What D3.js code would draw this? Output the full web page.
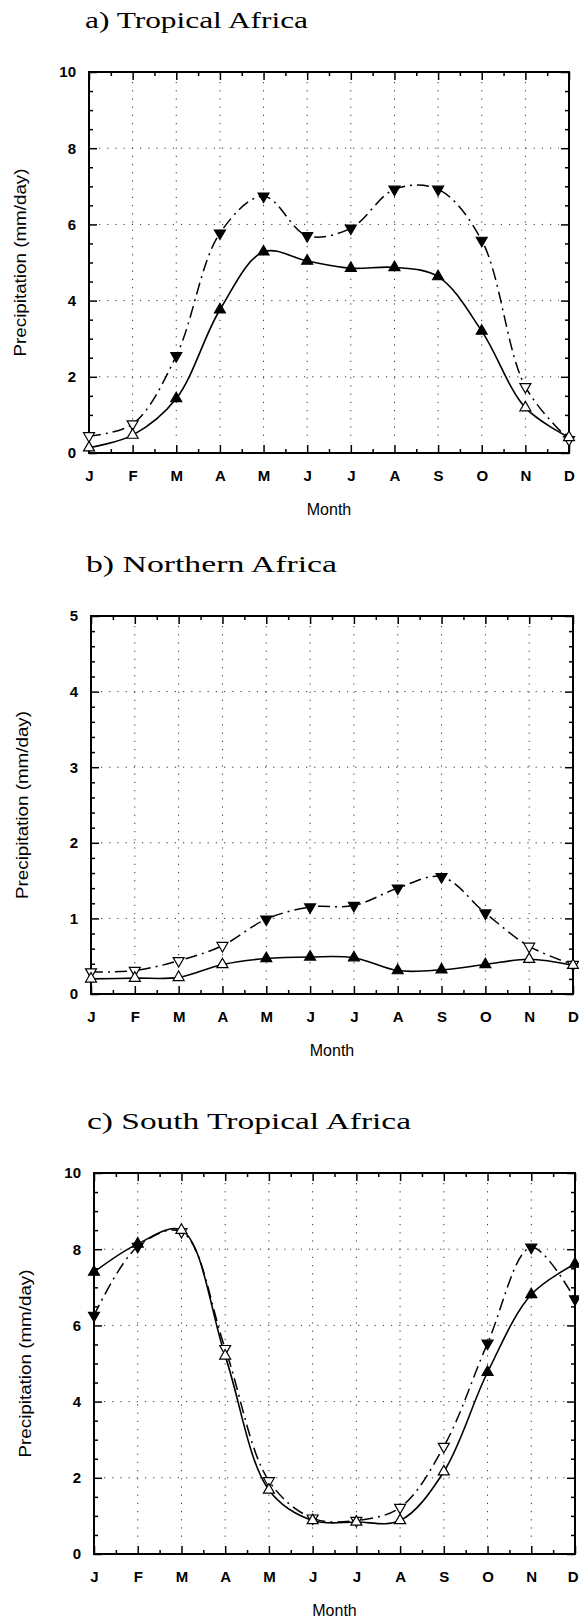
<!DOCTYPE html>
<html>
<head>
<meta charset="utf-8">
<script src="https://cdn.jsdelivr.net/npm/d3@7"></script>
<style>
  body { margin: 0; background: #fff; }
  text { fill: #000; }
</style>
</head>
<body>
<div id="chart"></div>
<script>
// month tick labels
var months = ["J", "F", "M", "A", "M", "J", "J", "A", "S", "O", "N", "D"];

// a) Tropical Africa
var titleA = "a) Tropical Africa";
var solidA = [0.14, 0.47, 1.43, 3.76, 5.28, 5.04, 4.85, 4.87, 4.63, 3.2, 1.19, 0.41];
var dashA = [0.45, 0.76, 2.55, 5.77, 6.74, 5.7, 5.9, 6.92, 6.92, 5.58, 1.74, 0.35];
var filledA = [0, 0, 1, 1, 1, 1, 1, 1, 1, 1, 0, 0];
var yTicksA = [0, 2, 4, 6, 8, 10];

// b) Northern Africa
var titleB = "b) Northern Africa";
var solidB = [0.2, 0.21, 0.22, 0.39, 0.47, 0.49, 0.48, 0.31, 0.32, 0.39, 0.46, 0.38];
var dashB = [0.29, 0.31, 0.44, 0.64, 0.99, 1.15, 1.17, 1.4, 1.55, 1.07, 0.63, 0.39];
var filledB = [0, 0, 0, 0, 1, 1, 1, 1, 1, 1, 0, 0];
var yTicksB = [0, 1, 2, 3, 4, 5];

// c) South Tropical Africa
var titleC = "c) South Tropical Africa";
var solidC = [7.4, 8.14, 8.5, 5.2, 1.68, 0.88, 0.84, 0.88, 2.16, 4.77, 6.81, 7.61];
var dashC = [6.26, 8.07, 8.46, 5.39, 1.92, 0.94, 0.88, 1.22, 2.82, 5.53, 8.05, 6.69];
var filledC = [1, 1, 0, 0, 0, 0, 0, 0, 0, 1, 1, 1];
var yTicksC = [0, 2, 4, 6, 8, 10];

var svgWidth = 579;
var svgHeight = 1618;

var svg = d3.select("#chart")
    .append("svg")
    .attr("width", svgWidth)
    .attr("height", svgHeight);

var panels = [
    { title: titleA, titleW: 223, titleX: 85, solid: solidA, dash: dashA, filled: filledA,
      yTicks: yTicksA, minor: 0.5, box: { left: 89, right: 569, top: 72, bottom: 453 } },
    { title: titleB, titleW: 251, titleX: 86, solid: solidB, dash: dashB, filled: filledB,
      yTicks: yTicksB, minor: 0.2, box: { left: 91, right: 573, top: 616, bottom: 994 } },
    { title: titleC, titleW: 324, titleX: 87, solid: solidC, dash: dashC, filled: filledC,
      yTicks: yTicksC, minor: 0.5, box: { left: 94, right: 575, top: 1173, bottom: 1554 } }
];

panels.forEach(drawPanel);

function drawPanel(p) {
    var b = p.box;
    var yMax = d3.max(p.yTicks);
    var idx = d3.range(months.length);

    var x = d3.scaleLinear().domain([0, months.length - 1]).range([b.left, b.right]);
    var y = d3.scaleLinear().domain([0, yMax]).range([b.bottom, b.top]);

    var g = svg.append("g");

    // title
    g.append("text")
        .attr("x", p.titleX)
        .attr("y", b.top - 44)
        .attr("textLength", p.titleW)
        .attr("lengthAdjust", "spacingAndGlyphs")
        .style("font-family", "'Liberation Serif', 'DejaVu Serif', serif")
        .style("font-size", "23px")
        .text(p.title);

    // dotted grid (faint, like the scan)
    var grid = g.append("g")
        .attr("stroke", "#333")
        .attr("stroke-width", 1)
        .attr("stroke-dasharray", "1.2,7");
    grid.selectAll(".vg")
        .data(idx.slice(1, -1))
        .enter()
        .append("line")
        .attr("x1", function(d) { return x(d); })
        .attr("x2", function(d) { return x(d); })
        .attr("y1", b.top + 10)
        .attr("y2", b.bottom - 10);
    grid.selectAll(".hg")
        .data(p.yTicks.slice(1, -1))
        .enter()
        .append("line")
        .attr("y1", function(d) { return y(d); })
        .attr("y2", function(d) { return y(d); })
        .attr("x1", b.left + 10)
        .attr("x2", b.right - 10);

    // axes, ticks pointing inward
    var halfMonths = idx.slice(0, -1).map(function(d) { return d + 0.5; });
    var minorY = d3.range(0, yMax + 1e-6, p.minor).filter(function(v) {
        return p.yTicks.indexOf(Math.round(v * 100) / 100) < 0;
    });

    var axes = [
        d3.axisBottom(x).tickValues(idx).tickSizeInner(-8).tickSizeOuter(0).tickPadding(17)
            .tickFormat(function(d) { return months[d]; }),
        d3.axisBottom(x).tickValues(halfMonths).tickSizeInner(-4).tickSizeOuter(0).tickFormat(""),
        d3.axisLeft(y).tickValues(p.yTicks).tickSizeInner(-8).tickSizeOuter(0).tickPadding(13)
            .tickFormat(d3.format("d")),
        d3.axisLeft(y).tickValues(minorY).tickSizeInner(-4).tickSizeOuter(0).tickFormat("")
    ];
    var places = [
        "translate(0," + b.bottom + ")",
        "translate(0," + b.bottom + ")",
        "translate(" + b.left + ",0)",
        "translate(" + b.left + ",0)"
    ];
    axes.forEach(function(ax, i) {
        var a = g.append("g").attr("transform", places[i]).call(ax);
        a.select(".domain").remove();
        a.selectAll("line").attr("stroke", "#000").attr("stroke-width", 1.5);
        a.selectAll("text")
            .style("font-family", "'Liberation Sans', Arial, sans-serif")
            .style("font-size", "15px")
            .style("font-weight", "bold");
    });

    // last month label hits the page edge in panel c: keep it inside
    g.selectAll("text").filter(function() {
        return this.getComputedTextLength && this.textContent === "D";
    }).each(function() {
        var t = d3.select(this);
        if (b.right + 6 > svgWidth) {
            t.attr("text-anchor", "end").attr("x", svgWidth - 1 - b.right);
        }
    });

    // top and right ticks
    var top1 = g.append("g").attr("transform", "translate(0," + b.top + ")")
        .call(d3.axisTop(x).tickValues(idx).tickSizeInner(-8).tickSizeOuter(0).tickFormat(""));
    var top2 = g.append("g").attr("transform", "translate(0," + b.top + ")")
        .call(d3.axisTop(x).tickValues(halfMonths).tickSizeInner(-4).tickSizeOuter(0).tickFormat(""));
    var right1 = g.append("g").attr("transform", "translate(" + b.right + ",0)")
        .call(d3.axisRight(y).tickValues(p.yTicks).tickSizeInner(-8).tickSizeOuter(0).tickFormat(""));
    var right2 = g.append("g").attr("transform", "translate(" + b.right + ",0)")
        .call(d3.axisRight(y).tickValues(minorY).tickSizeInner(-4).tickSizeOuter(0).tickFormat(""));
    [top1, top2, right1, right2].forEach(function(a) {
        a.select(".domain").remove();
        a.selectAll("line").attr("stroke", "#000").attr("stroke-width", 1.5);
    });

    // frame
    g.append("rect")
        .attr("x", b.left)
        .attr("y", b.top)
        .attr("width", b.right - b.left)
        .attr("height", b.bottom - b.top)
        .attr("fill", "none")
        .attr("stroke", "#000")
        .attr("stroke-width", 2);

    // axis titles
    g.append("text")
        .attr("transform", "translate(" + (b.left - 69) + "," + ((b.top + b.bottom) / 2) + ") rotate(-90)")
        .attr("text-anchor", "middle")
        .attr("dy", "0.35em")
        .attr("textLength", 188)
        .attr("lengthAdjust", "spacingAndGlyphs")
        .style("font-family", "'Liberation Sans', Arial, sans-serif")
        .style("font-size", "16px")
        .text("Precipitation (mm/day)");

    g.append("text")
        .attr("x", (b.left + b.right) / 2)
        .attr("y", b.bottom + 62)
        .attr("text-anchor", "middle")
        .style("font-family", "'Liberation Sans', Arial, sans-serif")
        .style("font-size", "16px")
        .text("Month");

    // lines
    var line = function(vals) {
        return d3.line()
            .x(function(d, i) { return x(i); })
            .y(function(d) { return y(d); })
            .curve(d3.curveCatmullRom.alpha(0.5))(vals);
    };

    g.append("path")
        .attr("d", line(p.dash))
        .attr("fill", "none")
        .attr("stroke", "#000")
        .attr("stroke-width", 1.5)
        .attr("stroke-dasharray", "12,5,2,5");

    g.append("path")
        .attr("d", line(p.solid))
        .attr("fill", "none")
        .attr("stroke", "#000")
        .attr("stroke-width", 1.6);

    // markers: up triangles for solid line, down triangles for dashed line
    var tri = d3.symbol().type(d3.symbolTriangle).size(52);

    g.selectAll(".dn")
        .data(p.dash)
        .enter()
        .append("path")
        .attr("d", tri)
        .attr("transform", function(d, i) {
            return "translate(" + x(i) + "," + y(d) + ") rotate(180)";
        })
        .attr("fill", function(d, i) { return p.filled[i] ? "#000" : "#fff"; })
        .attr("stroke", "#000")
        .attr("stroke-width", 1.2);

    g.selectAll(".up")
        .data(p.solid)
        .enter()
        .append("path")
        .attr("d", tri)
        .attr("transform", function(d, i) {
            return "translate(" + x(i) + "," + y(d) + ")";
        })
        .attr("fill", function(d, i) { return p.filled[i] ? "#000" : "#fff"; })
        .attr("stroke", "#000")
        .attr("stroke-width", 1.2);
}
</script>
</body>
</html>
